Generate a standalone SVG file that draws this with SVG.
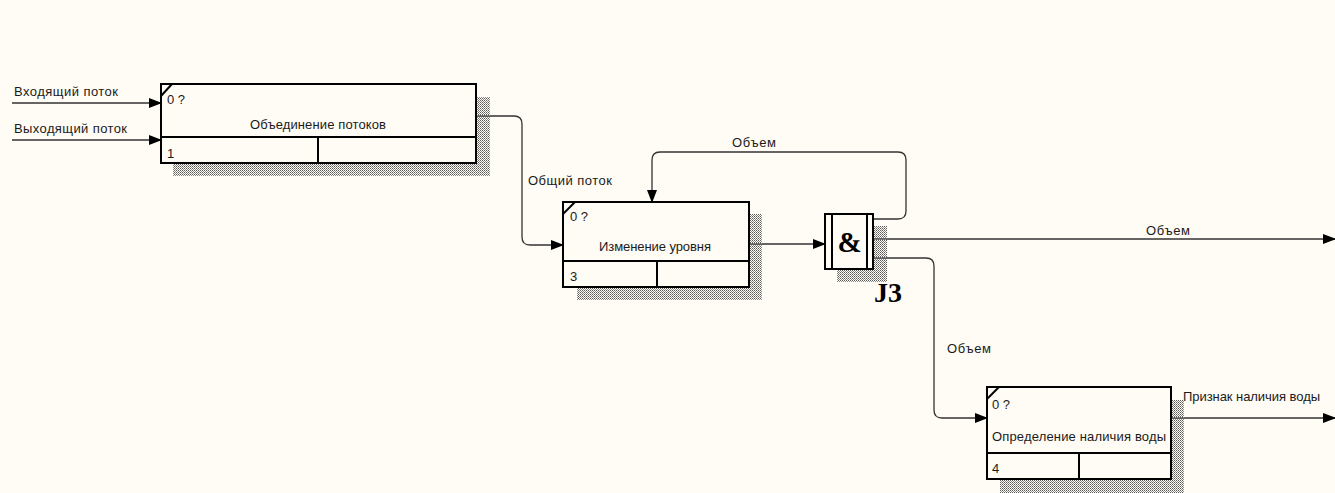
<svg xmlns="http://www.w3.org/2000/svg" width="1335" height="493" viewBox="0 0 1335 493">
<defs>
<pattern id="hatch" width="2" height="2" patternUnits="userSpaceOnUse">
<rect x="0" y="0" width="1" height="1" fill="#5a5a5a"/>
<rect x="1" y="1" width="1" height="1" fill="#8a8a8a"/>
</pattern>
<marker id="arr" markerWidth="13" markerHeight="10" refX="12" refY="5" orient="auto" markerUnits="userSpaceOnUse">
<path d="M0,0 L13,5 L0,10 Z" fill="#000"/>
</marker>
<style>
.box{fill:#fffcf5;stroke:#000;stroke-width:2}
.div{stroke:#000;stroke-width:2}
.sh{fill:url(#hatch)}
.ln{fill:none;stroke:#333;stroke-width:1.3}
.t{font-family:"Liberation Sans",Arial,sans-serif;font-size:13px;fill:#1a1a1a}
.big{font-family:"Liberation Serif","Times New Roman",serif;font-weight:bold;fill:#000}
</style>
</defs>
<rect x="0" y="0" width="1335" height="493" fill="#fffcf5"/>

<g id="connectors">
<line class="ln" x1="12" y1="103" x2="161" y2="103" marker-end="url(#arr)"/>
<text class="t" x="14" y="96" textLength="104">Входящий поток</text>
<line class="ln" x1="12" y1="140" x2="161" y2="140" marker-end="url(#arr)"/>
<text class="t" x="14" y="133" textLength="113">Выходящий поток</text>
<path class="ln" d="M476,116 H514 Q522,116 522,124 V237 Q522,245 530,245 H563" marker-end="url(#arr)"/>
<text class="t" x="528" y="185" textLength="84">Общий поток</text>
<line class="ln" x1="749" y1="244" x2="825" y2="244" marker-end="url(#arr)"/>
<path class="ln" d="M873,219 H898 Q906,219 906,211 V160 Q906,152 898,152 H660 Q652,152 652,160 V202" marker-end="url(#arr)"/>
<text class="t" x="732" y="147" textLength="44">Объем</text>
<line class="ln" x1="873" y1="239" x2="1335" y2="239" marker-end="url(#arr)"/>
<text class="t" x="1146" y="235" textLength="44">Объем</text>
<path class="ln" d="M873,258 H926 Q934,258 934,266 V410 Q934,418 942,418 H987" marker-end="url(#arr)"/>
<text class="t" x="947" y="353" textLength="44">Объем</text>
<line class="ln" x1="1171" y1="418" x2="1335" y2="418" marker-end="url(#arr)"/>
<text class="t" x="1183" y="401" textLength="137">Признак наличия воды</text>
</g>

<g id="node1">
<rect class="sh" x="476" y="97" width="14" height="79"/>
<rect class="sh" x="173" y="163" width="317" height="13"/>
<rect class="box" x="161" y="84" width="315" height="79"/>
<line class="div" x1="161" y1="137" x2="476" y2="137"/>
<line class="div" x1="318" y1="137" x2="318" y2="163"/>
<line class="div" x1="161" y1="96" x2="172" y2="84"/>
<text class="t" x="167" y="104">0 ?</text>
<text class="t" x="318" y="129" text-anchor="middle" textLength="136">Объединение потоков</text>
<text class="t" x="167" y="158">1</text>
</g>

<g id="node2">
<rect class="sh" x="749" y="214" width="13" height="86"/>
<rect class="sh" x="577" y="287" width="185" height="13"/>
<rect class="box" x="563" y="202" width="186" height="85"/>
<line class="div" x1="563" y1="261" x2="749" y2="261"/>
<line class="div" x1="657" y1="261" x2="657" y2="287"/>
<line class="div" x1="563" y1="214" x2="575" y2="202"/>
<text class="t" x="570" y="221">0 ?</text>
<text class="t" x="655" y="251" text-anchor="middle" textLength="112">Изменение уровня</text>
<text class="t" x="570" y="281">3</text>
</g>

<g id="junctionJ3">
<rect class="sh" x="873" y="226" width="14" height="56"/>
<rect class="sh" x="837" y="269" width="50" height="13"/>
<rect class="box" x="825" y="214" width="48" height="55"/>
<line class="div" x1="832" y1="214" x2="832" y2="269"/>
<line class="div" x1="867" y1="214" x2="867" y2="269"/>
<text class="big" x="849.5" y="252" font-size="29" text-anchor="middle">&amp;</text>
<text class="big" x="874" y="302" font-size="28">J3</text>
</g>

<g id="node4">
<rect class="sh" x="1171" y="400" width="13" height="93"/>
<rect class="sh" x="1000" y="479" width="184" height="14"/>
<rect class="box" x="987" y="387" width="184" height="92"/>
<line class="div" x1="987" y1="453" x2="1171" y2="453"/>
<line class="div" x1="1079" y1="453" x2="1079" y2="479"/>
<line class="div" x1="987" y1="399" x2="999" y2="387"/>
<text class="t" x="992" y="409">0 ?</text>
<text class="t" x="992" y="441" textLength="174">Определение наличия воды</text>
<text class="t" x="992" y="473">4</text>
</g>
</svg>
